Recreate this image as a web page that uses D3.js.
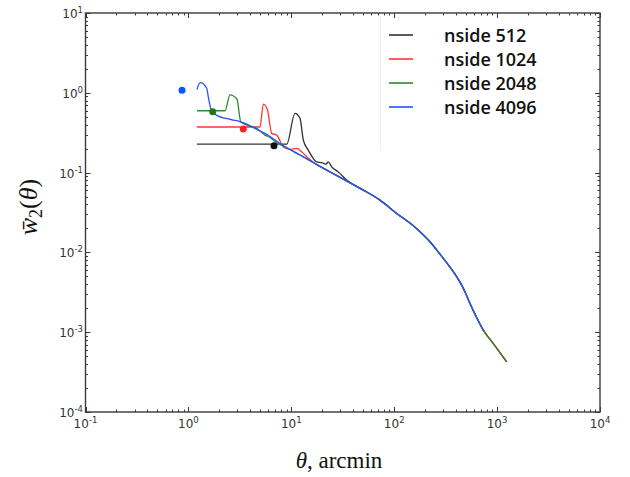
<!DOCTYPE html>
<html>
<head>
<meta charset="utf-8">
<script src="https://cdnjs.cloudflare.com/ajax/libs/d3/7.8.5/d3.min.js"></script>
<style>
  body { margin: 0; background: #fff; }
</style>
</head>
<body>
<div id="container"></div>
<script>
// shared part of the curve, all resolutions sit on it at large angles
let thetaMain = [8.687, 12.15, 16.99, 23.78, 33.25, 50.09, 72.8, 105.8, 159.2, 222.7, 278.6, 348.5, 390, 436, 487, 545, 623, 734, 919, 1240];
let wMain     = [0.211, 0.166, 0.130, 0.102, 0.0805, 0.0604, 0.0452, 0.0308, 0.0207, 0.0136, 0.0095, 0.00653, 0.00535, 0.00424, 0.00322, 0.00229, 0.00159, 0.00106, 0.000721, 0.000425];

// small-scale parts, one per nside
let theta512 = [1.21, 9.02, 10.86, 12.15, 13.08, 14.63, 17.65, 19.74, 21.74, 22.88, 24.70, 28.63, 34.54];
let w512     = [0.227, 0.227, 0.552, 0.478, 0.256, 0.191, 0.136, 0.133, 0.128, 0.136, 0.118, 0.102, 0.0805];
let theta1024 = [1.21, 4.964, 5.345, 5.87, 6.45, 7.214, 8.36, 9.71, 11.28, 12.62, 14.63];
let w1024     = [0.373, 0.373, 0.72, 0.608, 0.310, 0.295, 0.211, 0.195, 0.201, 0.182, 0.151];
let theta2048 = [1.21, 2.268, 2.537, 2.967, 3.224, 3.687, 4.61, 5.551, 6.209, 7.214];
let w2048     = [0.596, 0.596, 0.94, 0.83, 0.434, 0.394, 0.358, 0.295, 0.276, 0.237];
let theta4096 = [1.21, 1.305, 1.506, 1.561, 1.658, 1.746, 1.953, 2.268, 2.731, 3.053, 3.548, 4.438, 5.551, 6.943];
let w4096     = [1.10, 1.34, 1.14, 0.89, 0.62, 0.56, 0.51, 0.48, 0.455, 0.443, 0.414, 0.358, 0.310, 0.256];
let thetaEnd = [1240, 1240, 1240, 734];

// pixel-scale markers
let dotTheta = [6.79, 3.417, 1.722, 0.867];
let dotW     = [0.217, 0.351, 0.578, 1.08];

let names = ["nside 512", "nside 1024", "nside 2048", "nside 4096"];
let colors = ["#333333", "#ff3535", "#2a8c2a", "#2453ff"];
let dotColors = ["#111111", "#ff2020", "#1a7a1a", "#0b55ff"];

let xTickExps = [-1, 0, 1, 2, 3, 4];
let yTickExps = [-4, -3, -2, -1, 0, 1];

let w = 630;
let h = 477;
let x0 = 85.5, x1 = 600, y0 = 13, y1 = 412;

let viz = d3.select("#container")
  .append("svg")
  .attr("width", w)
  .attr("height", h)
  .style("display", "block");

let xScale = d3.scaleLog().domain([1e-1, 1e4]).range([x0, x1]);
let yScale = d3.scaleLog().domain([1e-4, 1e1]).range([y1, y0]);

let heads = [[theta512, w512], [theta1024, w1024], [theta2048, w2048], [theta4096, w4096]];
let series = heads.map(function(hd, i) {
  let pts = hd[0].map(function(t, j) { return {theta: t, w: hd[1][j]}; });
  let last = hd[0][hd[0].length - 1];
  thetaMain.forEach(function(t, j) {
    if (t > last && t <= thetaEnd[i]) pts.push({theta: t, w: wMain[j]});
  });
  return pts;
});

// faint legend frame edge
viz.append("line")
  .attr("x1", 380.5).attr("x2", 380.5)
  .attr("y1", 16).attr("y2", 150)
  .attr("stroke", "#f0f0f0");

let lineMaker = d3.line()
  .curve(d3.curveMonotoneX)
  .x(function(d) { return xScale(d.theta); })
  .y(function(d) { return yScale(d.w); });

viz.append("g").selectAll("path")
  .data(series)
  .enter()
  .append("path")
  .attr("d", lineMaker)
  .attr("fill", "none")
  .attr("stroke", function(d, i) { return colors[i]; })
  .attr("stroke-width", 1.3)
  .attr("stroke-linejoin", "round");

viz.append("g").selectAll("circle")
  .data(dotTheta)
  .enter()
  .append("circle")
  .attr("cx", function(d) { return xScale(d); })
  .attr("cy", function(d, i) { return yScale(dotW[i]); })
  .attr("r", 3.5)
  .attr("fill", function(d, i) { return dotColors[i]; });

// frame
let spineColor = "#3a3a3a";
viz.append("rect")
  .attr("x", x0).attr("y", y0)
  .attr("width", x1 - x0).attr("height", y1 - y0)
  .attr("fill", "none")
  .attr("stroke", spineColor)
  .attr("stroke-width", 1.4);

// ticks, inward on all four sides
let majorX = xTickExps.map(function(e) { return Math.pow(10, e); });
let majorY = yTickExps.map(function(e) { return Math.pow(10, e); });
let minorX = [], minorY = [];
xTickExps.slice(0, -1).forEach(function(e) {
  for (let k = 2; k < 10; k++) minorX.push(k * Math.pow(10, e));
});
yTickExps.slice(0, -1).forEach(function(e) {
  for (let k = 2; k < 10; k++) minorY.push(k * Math.pow(10, e));
});

let tickGroup = viz.append("g").attr("stroke", spineColor).attr("stroke-width", 1);
function xTicks(vals, len) {
  vals.forEach(function(v) {
    let px = Math.round(xScale(v)) + 0.5;
    tickGroup.append("line").attr("x1", px).attr("x2", px).attr("y1", y1).attr("y2", y1 - len);
    tickGroup.append("line").attr("x1", px).attr("x2", px).attr("y1", y0).attr("y2", y0 + len);
  });
}
function yTicks(vals, len) {
  vals.forEach(function(v) {
    let py = Math.round(yScale(v)) + 0.5;
    tickGroup.append("line").attr("x1", x0).attr("x2", x0 + len).attr("y1", py).attr("y2", py);
    tickGroup.append("line").attr("x1", x1).attr("x2", x1 - len).attr("y1", py).attr("y2", py);
  });
}
xTicks(majorX, 5);
xTicks(minorX, 2.5);
yTicks(majorY, 5);
yTicks(minorY, 2.5);

// tick labels
let labelFont = "DejaVu Sans, sans-serif";
let xLabels = viz.append("g").selectAll("text")
  .data(xTickExps)
  .enter()
  .append("text")
  .attr("x", function(d) { return xScale(Math.pow(10, d)); })
  .attr("y", 428)
  .attr("text-anchor", "middle")
  .attr("font-family", labelFont)
  .attr("font-size", 12)
  .attr("fill", "#333");
xLabels.append("tspan").text("10");
xLabels.append("tspan").attr("dy", -5).attr("font-size", 8.5).text(function(d) { return d; });

let yLabels = viz.append("g").selectAll("text")
  .data(yTickExps)
  .enter()
  .append("text")
  .attr("x", 83)
  .attr("y", function(d) { return yScale(Math.pow(10, d)) + 5; })
  .attr("text-anchor", "end")
  .attr("font-family", labelFont)
  .attr("font-size", 12)
  .attr("fill", "#333");
yLabels.append("tspan").text("10");
yLabels.append("tspan").attr("dy", -5).attr("font-size", 8.5).text(function(d) { return d; });

// axis titles
let xTitle = viz.append("text")
  .attr("x", 339)
  .attr("y", 468)
  .attr("text-anchor", "middle")
  .attr("font-family", "Liberation Serif, serif")
  .attr("font-size", 23)
  .attr("fill", "#111");
xTitle.append("tspan").attr("font-style", "italic").text("θ");
xTitle.append("tspan").text(", arcmin");

let yTitle = viz.append("text")
  .attr("transform", "translate(37,207) rotate(-90)")
  .attr("text-anchor", "middle")
  .attr("font-family", "Liberation Serif, serif")
  .attr("font-size", 26)
  .attr("fill", "#111");
yTitle.append("tspan").attr("font-style", "italic").text("w\u0304");
yTitle.append("tspan").attr("font-size", 18).attr("dy", 5).text("2");
yTitle.append("tspan").attr("dy", -5).text("(");
yTitle.append("tspan").attr("font-style", "italic").text("θ");
yTitle.append("tspan").text(")");

// legend
let legend = viz.append("g").selectAll("g")
  .data(names)
  .enter()
  .append("g")
  .attr("transform", function(d, i) { return "translate(0," + (35 + i * 24) + ")"; });
legend.append("line")
  .attr("x1", 389).attr("x2", 413)
  .attr("y1", 0).attr("y2", 0)
  .attr("stroke", function(d, i) { return colors[i]; })
  .attr("stroke-width", 1.6);
legend.append("text")
  .attr("x", 444)
  .attr("y", 6.5)
  .attr("font-family", "Open Sans, sans-serif")
  .attr("font-weight", 600)
  .attr("font-size", 18)
  .attr("fill", "#111")
  .text(function(d) { return d; });
</script>
</body>
</html>
